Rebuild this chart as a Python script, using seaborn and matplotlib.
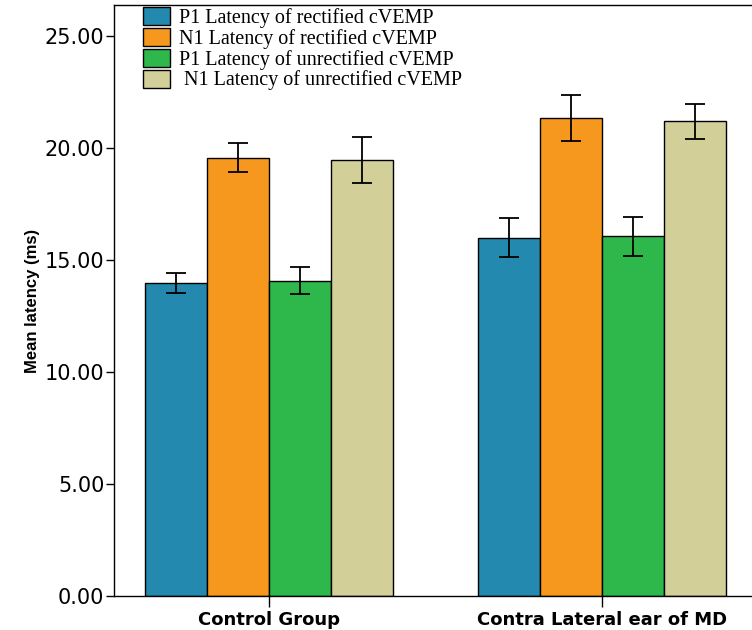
import numpy as np
import pandas as pd
import matplotlib
matplotlib.use("Agg")
import matplotlib.pyplot as plt
import seaborn as sns

# Data
groups = ['Control Group', 'Contra Lateral ear of MD']
series = ['P1 Latency of rectified cVEMP', 'N1 Latency of rectified cVEMP',
          'P1 Latency of unrectified cVEMP', ' N1 Latency of unrectified cVEMP']
means_control = [13.99, 19.58, 14.09, 19.49]
means_md = [16.01, 21.34, 16.06, 21.21]
err_control = [0.46, 0.66, 0.61, 1.03]
err_md = [0.87, 1.03, 0.86, 0.79]
colors = ['#2489ae', '#f7981e', '#2eb84b', '#d3cf99']

df = pd.DataFrame({
    'group': [groups[0]] * 4 + [groups[1]] * 4,
    'series': series * 2,
    'mean': means_control + means_md,
    'err': err_control + err_md,
})

sns.set_style("white")
plt.rcParams['font.family'] = ['DejaVu Sans']
plt.rcParams['text.color'] = 'black'
plt.rcParams['axes.labelcolor'] = 'black'
plt.rcParams['xtick.color'] = 'black'
plt.rcParams['ytick.color'] = 'black'

fig = plt.figure(figsize=(7.52, 6.30), dpi=100)
ax = fig.add_axes([0.1516, 0.054, 0.86, 0.938])

sns.barplot(data=df, x='group', y='mean', hue='series', hue_order=series,
            palette=colors, saturation=1, width=0.745, errorbar=None,
            edgecolor='black', linewidth=1.0, ax=ax, legend=True)

# error bars at the bar centres
for cont, s in zip(ax.containers, series):
    sub = df[df['series'] == s]
    xs = [p.get_x() + p.get_width() / 2 for p in cont.patches]
    ax.errorbar(xs, sub['mean'].values, yerr=sub['err'].values, fmt='none',
                ecolor='black', elinewidth=1.3, capsize=7, capthick=1.3)

ax.set_ylim(0, 26.4)
ax.set_xlim(-0.465, 1.477)
ax.set_yticks([0, 5, 10, 15, 20, 25])
ax.set_yticklabels([f'{v:.2f}' for v in [0, 5, 10, 15, 20, 25]], fontsize=15)
ax.tick_params(axis='y', direction='out', length=6, width=1, left=True, pad=1,
               colors='black')
ax.tick_params(axis='x', direction='out', length=8, width=1, bottom=True, pad=3,
               colors='black')
for lab in ax.get_xticklabels():
    lab.set_fontweight('bold')
    lab.set_fontsize(13)
ax.set_xlabel('')
ax.set_ylabel('Mean latency (ms)', fontsize=12, fontweight='bold', labelpad=3,
              family='Liberation Sans', color='black')

for side in ['left', 'bottom', 'top']:
    ax.spines[side].set_visible(True)
    ax.spines[side].set_color('black')
    ax.spines[side].set_linewidth(1.0)
ax.spines['right'].set_visible(False)

handles, labels = ax.get_legend_handles_labels()
ax.legend(handles, labels, loc='upper left', bbox_to_anchor=(0.180, 1.002),
          bbox_transform=fig.transFigure, frameon=False,
          prop={'family': 'Liberation Serif', 'size': 14.5},
          handlelength=1.3, handleheight=1.0, handletextpad=0.45,
          labelspacing=0.0, borderaxespad=0.0)

fig.savefig('out.png', dpi=100)
